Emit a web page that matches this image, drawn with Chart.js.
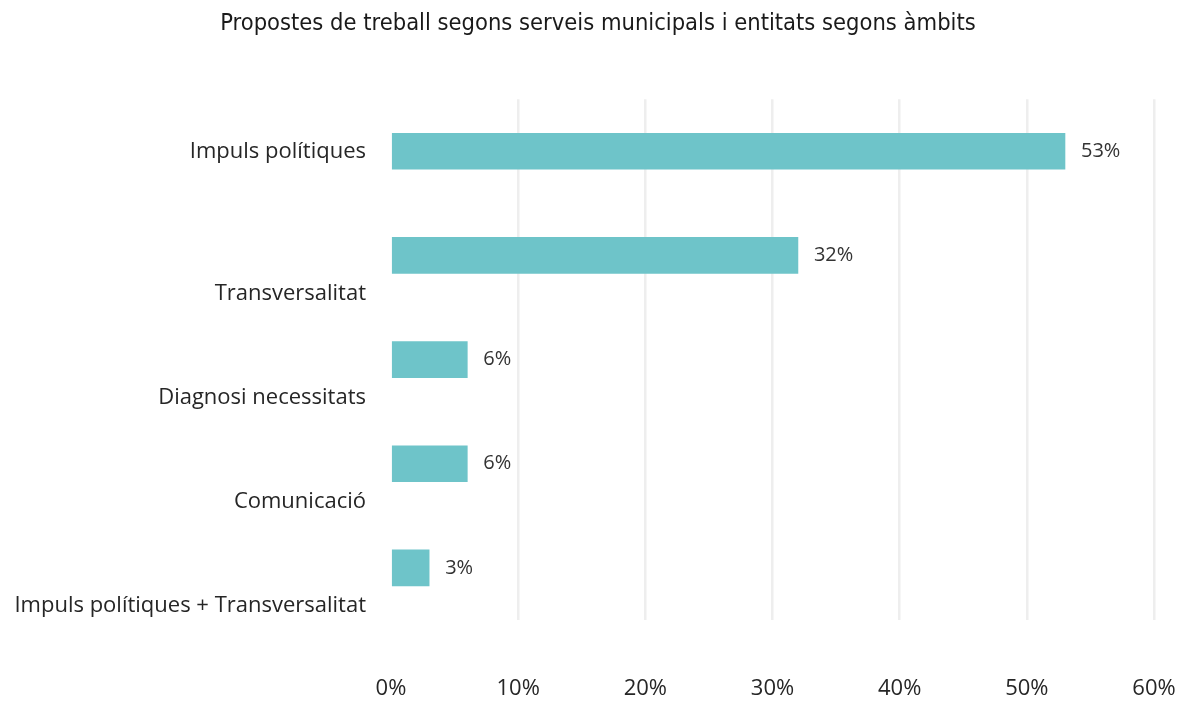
<!DOCTYPE html>
<html>
<head>
<meta charset="utf-8">
<script src="https://cdn.jsdelivr.net/npm/chart.js@4"></script>
<style>
  html, body { margin: 0; padding: 0; background: #fff; }
  #wrap { width: 1178px; height: 703px; }
</style>
</head>
<body>
<div id="wrap"><canvas id="chart"></canvas></div>
<script>
const categories = [
  "Impuls polítiques",
  "Transversalitat",
  "Diagnosi necessitats",
  "Comunicació",
  "Impuls polítiques + Transversalitat"
];
const values = [53, 32, 6, 6, 3];
const xTicks = [0, 10, 20, 30, 40, 50, 60];

const labelFont = "'Open Sans', 'Noto Sans', sans-serif";

// category names left of the axis; all but the first drop under their bar
const categoryLabels = {
  id: "categoryLabels",
  afterDraw(chart) {
    const { ctx, scales } = chart;
    const y = scales.y;
    ctx.save();
    ctx.font = "22px " + labelFont;
    ctx.fillStyle = "#262626";
    ctx.textAlign = "right";
    ctx.textBaseline = "middle";
    categories.forEach((name, i) => {
      const shift = i === 0 ? 0 : 38;
      ctx.fillText(name, chart.chartArea.left - 25, y.getPixelForValue(i) + shift);
    });
    ctx.restore();
  }
};

// value labels at the end of each bar
const valueLabels = {
  id: "valueLabels",
  afterDatasetsDraw(chart) {
    const { ctx } = chart;
    const meta = chart.getDatasetMeta(0);
    ctx.save();
    ctx.font = "20px " + labelFont;
    ctx.fillStyle = "#333";
    ctx.textAlign = "left";
    ctx.textBaseline = "middle";
    meta.data.forEach((bar, i) => {
      ctx.fillText(values[i] + "%", bar.x + 16, bar.y);
    });
    ctx.restore();
  }
};

new Chart(document.getElementById("chart"), {
  type: "bar",
  data: {
    labels: categories,
    datasets: [{
      data: values,
      backgroundColor: "#6ec4c9",
      barThickness: 36
    }]
  },
  options: {
    indexAxis: "y",
    responsive: true,
    maintainAspectRatio: false,
    animation: false,
    layout: { padding: { left: 42, right: 24, top: 0, bottom: 0 } },
    plugins: {
      legend: { display: false },
      tooltip: { enabled: false },
      title: {
        display: true,
        text: "Propostes de treball segons serveis municipals i entitats segons àmbits",
        color: "#1a1a1a",
        font: { family: "'Liberation Sans Narrow', 'Arial Narrow', 'DejaVu Sans Condensed', sans-serif", size: 23.5, weight: "normal" },
        padding: { top: 10, bottom: 61 }
      }
    },
    scales: {
      x: {
        min: 0,
        max: 60,
        afterBuildTicks(scale) {
          scale.ticks = xTicks.map(v => ({ value: v }));
        },
        afterFit(scale) {
          scale.height = 83;
          scale.paddingLeft = 0;
          scale.paddingRight = 0;
        },
        grid: {
          color: ctx => (ctx.tick && ctx.tick.value === 0 ? "rgba(0,0,0,0)" : "#eeeeee"),
          lineWidth: 2.5,
          drawTicks: false
        },
        border: { display: false },
        ticks: {
          padding: 56,
          maxRotation: 0,
          color: "#262626",
          font: { family: labelFont, size: 22 },
          callback: v => v + "%"
        }
      },
      y: {
        grid: { display: false },
        border: { display: false },
        ticks: { display: false },
        afterFit(scale) { scale.width = 349; }
      }
    }
  },
  plugins: [categoryLabels, valueLabels]
});
</script>
</body>
</html>
